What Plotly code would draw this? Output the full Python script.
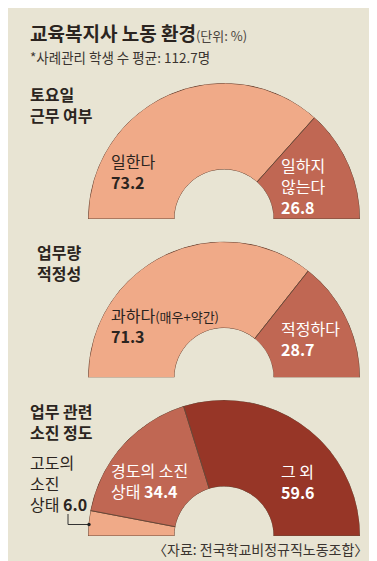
import plotly.graph_objects as go

W, H = 377, 561
FONT = "Noto Sans CJK KR"
BG = "#e8e4d3"
C_LIGHT = "#f0aa88"
C_MID = "#c06753"
C_DARK = "#973627"
EDGE = "#6a4838"
TXT = "#2b2420"

# ---- data ----
title = "교육복지사 노동 환경"
unit = "(단위: %)"
subtitle = "*사례관리 학생 수 평균: 112.7명"
source = "〈자료: 전국학교비정규직노동조합〉"

sat_title = ["토요일", "근무 여부"]
sat_labels = ["일한다", "일하지 않는다"]
sat_values = [73.2, 26.8]

load_title = ["업무량", "적정성"]
load_labels = ["과하다(매우+약간)", "적정하다"]
load_values = [71.3, 28.7]

burn_title = ["업무 관련", "소진 정도"]
burn_labels = ["고도의 소진 상태", "경도의 소진 상태", "그 외"]
burn_values = [6.0, 34.4, 59.6]


def px(x, y):
    return x / W, 1 - y / H


fig = go.Figure()


def half_donut(idx, values, colors, cx, cy, R, r_in):
    name = "polar" if idx == 1 else f"polar{idx}"
    total = sum(values)
    thetas, widths, start = [], [], 0.0
    for v in values:
        thetas.append((start + v / 2) / total * 180)
        widths.append(v / total * 180)
        start += v
    fig.add_trace(go.Barpolar(
        r=[1] * len(values), theta=thetas, width=widths,
        marker=dict(color=colors, line=dict(color=EDGE, width=1)),
        subplot=name, showlegend=False, hoverinfo="skip"))
    x0, y1 = px(cx - R, cy - R)
    x1, y0 = px(cx + R, cy)
    fig.layout[name] = dict(
        domain=dict(x=[x0, x1], y=[y0, y1]),
        sector=[0, 180], hole=r_in / R, bgcolor="rgba(0,0,0,0)",
        radialaxis=dict(visible=False, range=[0, 1]),
        angularaxis=dict(visible=False, rotation=180, direction="clockwise",
                         showgrid=False, showline=False, ticks=""),
    )


half_donut(1, sat_values, [C_LIGHT, C_MID], 216, 211, 136, 49.5)
half_donut(2, load_values, [C_LIGHT, C_MID], 216, 369.5, 136, 49.5)
half_donut(3, burn_values, [C_LIGHT, C_MID, C_DARK], 216, 528, 136, 49.5)


def txt(x, y, text, size=16, color=TXT, anchor="left"):
    ax, ay = px(x, y)
    fig.add_annotation(x=ax, y=ay, xref="paper", yref="paper", text=text,
                       showarrow=False, xanchor=anchor, yanchor="middle",
                       align=anchor, font=dict(family=FONT, size=size, color=color))


# header
txt(20, 25, f"<b>{title}</b><span style='font-size:13px;color:#4a4440'>{unit}</span>", 19)
txt(20, 49, subtitle, 13.5, "#3a3430")

# section titles
txt(20, 97, f"<b>{sat_title[0]}<br>{sat_title[1]}</b>", 16)
txt(27, 254, f"<b>{load_title[0]}<br>{load_title[1]}</b>", 16)
txt(20, 413.5, f"<b>{burn_title[0]}<br>{burn_title[1]}</b>", 16)

# donut 1 labels
txt(101, 163, f"{sat_labels[0]}<br><b>{sat_values[0]}</b>", 16)
w1 = sat_labels[1].split(" ")
txt(271, 178, f"{w1[0]}<br>{w1[1]}<br><b>{sat_values[1]}</b>", 16, "white")

# donut 2 labels
main, extra = load_labels[0].split("(")
txt(101, 317.5, f"{main}<span style='font-size:13px'>({extra}</span><br><b>{load_values[0]}</b>", 16)
txt(271, 330, f"{load_labels[1]}<br><b>{load_values[1]}</b>", 16, "white")

# donut 3 labels
b0 = burn_labels[0].split(" ")
txt(20, 475.5, f"{b0[0]}<br>{b0[1]}<br>{b0[2]} <b>{burn_values[0]:.1f}</b>", 16)
b1 = burn_labels[1].rsplit(" ", 1)
txt(101, 472, f"{b1[0]}<br>{b1[1]} <b>{burn_values[1]}</b>", 16, "white")
txt(271, 473, f"{burn_labels[2]}<br><b>{burn_values[2]}</b>", 16, "white")

# leader line for small slice
xa, ya = px(60, 506)
xb, yb = px(60, 516.5)
xc, yc = px(81, 516.5)
fig.add_shape(type="path", xref="paper", yref="paper",
              path=f"M {xa} {ya} L {xb} {yb} L {xc} {yc}",
              line=dict(color="#333", width=1))
d0x, d0y = px(79.3, 514.8)
d1x, d1y = px(82.7, 518.2)
fig.add_shape(type="circle", xref="paper", yref="paper",
              x0=d0x, y0=d1y, x1=d1x, y1=d0y,
              fillcolor="#222", line=dict(color="#222", width=0))

# source
txt(362, 541, source, 14, "#3a3430", anchor="right")

fig.update_layout(width=W, height=H, margin=dict(l=0, r=0, t=0, b=0),
                  paper_bgcolor=BG, plot_bgcolor=BG,
                  font=dict(family=FONT))
fig.write_html("out.html")
